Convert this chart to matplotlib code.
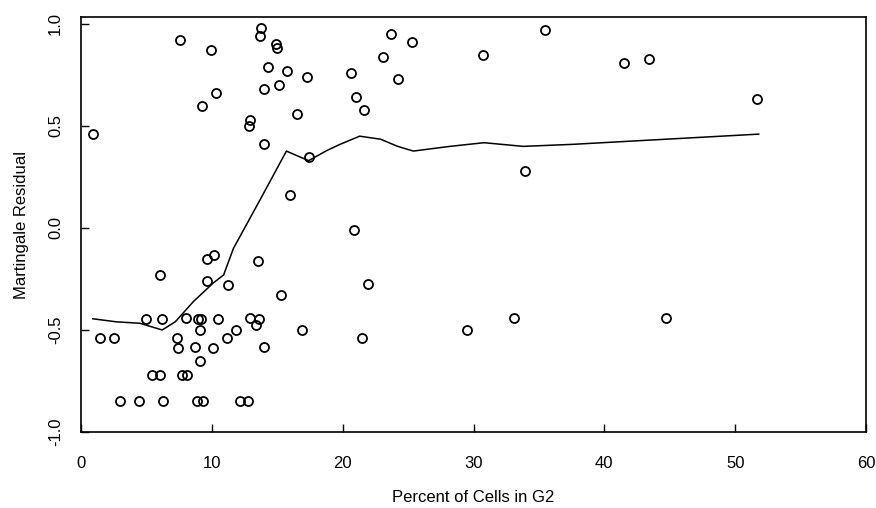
import matplotlib
matplotlib.use("Agg")
import matplotlib.pyplot as plt

# Martingale residuals vs percent of cells in G2
g2_pct = [0.9, 7.6, 9.9, 10.3, 9.25, 13.75, 13.7, 14.9, 14.95, 14.3, 15.75, 17.3,
          14.0, 15.15, 12.9, 12.85, 16.5, 14.0, 17.4, 15.95, 20.6, 21.0, 20.9,
          21.6, 23.7, 23.1, 25.3, 24.2, 30.7, 35.5, 41.5, 33.9, 43.4, 51.7,
          9.6, 10.2, 6.05, 13.55, 9.6, 11.25, 15.25, 5.0, 6.2, 8.05, 8.95, 9.15,
          10.5, 12.95, 13.6, 13.35, 9.1, 11.85, 16.9, 1.45, 2.5, 7.3, 7.45, 8.7,
          10.05, 11.15, 13.95, 9.1, 5.4, 6.05, 7.7, 8.1, 2.95, 4.45, 6.25, 8.85,
          9.3, 12.15, 12.75, 21.9, 21.5, 29.5, 33.1, 44.75]
mart_resid = [0.46, 0.92, 0.87, 0.66, 0.60, 0.98, 0.94, 0.90, 0.88, 0.79, 0.77, 0.74,
              0.68, 0.70, 0.53, 0.50, 0.56, 0.41, 0.35, 0.16, 0.76, 0.64, -0.01,
              0.58, 0.95, 0.84, 0.91, 0.73, 0.85, 0.97, 0.81, 0.28, 0.83, 0.63,
              -0.15, -0.13, -0.23, -0.16, -0.26, -0.28, -0.33, -0.445, -0.445, -0.44,
              -0.445, -0.445, -0.445, -0.44, -0.445, -0.475, -0.50, -0.50, -0.50,
              -0.54, -0.54, -0.54, -0.587, -0.585, -0.59, -0.54, -0.583, -0.65,
              -0.72, -0.72, -0.72, -0.72, -0.85, -0.85, -0.85, -0.85, -0.85,
              -0.85, -0.85, -0.276, -0.54, -0.50, -0.44, -0.44]

# smoother drawn through the residuals
smooth_x = [0.9, 2.7, 4.5, 6.2, 7.2, 8.6, 10.1, 10.9, 11.65, 13.7, 15.7, 16.3,
            17.4, 18.8, 19.8, 21.3, 22.9, 24.2, 25.4, 28.2, 30.8, 33.8, 37.6,
            42.7, 51.8]
smooth_y = [-0.445, -0.46, -0.467, -0.50, -0.46, -0.36, -0.27, -0.23, -0.10, 0.14,
            0.377, 0.36, 0.33, 0.38, 0.41, 0.45, 0.435, 0.40, 0.377, 0.40, 0.418,
            0.40, 0.41, 0.428, 0.46]

plt.rcParams['font.family'] = ['Liberation Sans', 'DejaVu Sans']

fig = plt.figure(figsize=(8.76, 5.08), dpi=100)
ax = fig.add_axes([0.0925, 0.1496, 0.8961, 0.8169])

ax.plot(smooth_x, smooth_y, color='black', linewidth=1.1)
ax.plot(g2_pct, mart_resid, linestyle='none', marker='o', markersize=6.5,
        markerfacecolor='none', markeredgecolor='black', markeredgewidth=1.3)

ax.set_xlim(0, 60)
ax.set_ylim(-1.0, 1.034)
ax.set_xticks([0, 10, 20, 30, 40, 50, 60])
ax.set_yticks([-1.0, -0.5, 0.0, 0.5, 1.0])
ax.set_yticklabels(['-1.0', '-0.5', '0.0', '0.5', '1.0'], rotation=90, va='center')
ax.tick_params(direction='in', length=6, width=1, labelsize=12)
ax.tick_params(axis='x', pad=17)
ax.tick_params(axis='y', pad=13)

for s in ax.spines.values():
    s.set_linewidth(1.2)

ax.set_xlabel('Percent of Cells in G2', fontsize=12, labelpad=14)
ax.set_ylabel('Martingale Residual', fontsize=12, labelpad=14)

fig.savefig('out.png', dpi=100)
